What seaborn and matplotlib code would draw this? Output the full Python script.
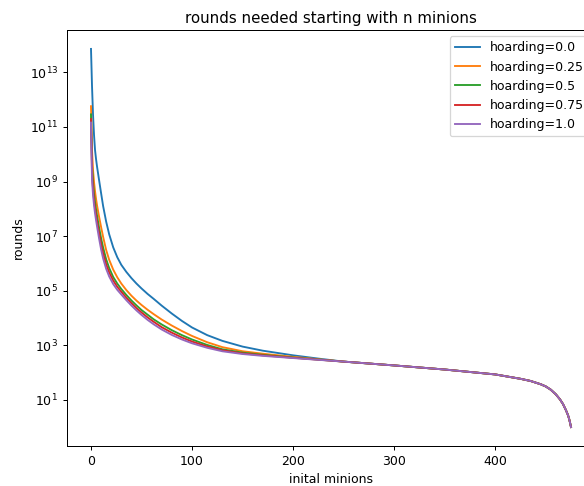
import matplotlib
matplotlib.use("Agg")
import matplotlib.pyplot as plt
import seaborn as sns
import numpy as np
import pandas as pd

# initial minions (sampled positions along the x axis)
minions_head = [0, 1, 2, 3, 4, 5, 6, 8, 10, 12, 15, 18, 22, 26, 30, 35, 40, 45, 50, 56,
                62, 70, 80, 90, 100, 115, 130, 150, 170, 200, 225]
minions_tail = [250, 300, 350, 400, 425, 435, 445, 450, 455, 460, 464, 467, 470, 472,
                473, 474, 475]

# rounds, read as log10 values off the log axis
log_tail = [2.40, 2.26, 2.11, 1.93, 1.77, 1.69, 1.57, 1.49, 1.37, 1.20, 1.02, 0.85,
            0.62, 0.44, 0.32, 0.17, 0.0]

log_h00 = [13.86, 12.5, 11.45, 10.7, 10.15, 9.82, 9.54, 9.05, 8.57, 8.1, 7.53, 7.065,
           6.585, 6.225, 5.945, 5.685, 5.46, 5.26, 5.08, 4.88, 4.70, 4.45, 4.16, 3.89,
           3.65, 3.37, 3.16, 2.95, 2.80, 2.63, 2.51]
log_h025 = [11.76, 10.15, 9.42, 8.98, 8.64, 8.36, 8.12, 7.71, 7.33, 6.97, 6.49, 6.13,
            5.77, 5.49, 5.26, 5.02, 4.815, 4.635, 4.475, 4.30, 4.14, 3.94, 3.72, 3.52,
            3.34, 3.11, 2.93, 2.78, 2.69, 2.575, 2.485]
log_h05 = [11.46, 9.6, 8.97, 8.56, 8.24, 7.97, 7.74, 7.31, 6.92, 6.58, 6.15, 5.83,
           5.5, 5.26, 5.06, 4.84, 4.64, 4.46, 4.29, 4.12, 3.95, 3.76, 3.55, 3.37,
           3.21, 3.01, 2.85, 2.73, 2.65, 2.55, 2.475]
log_h075 = [11.29, 9.32, 8.73, 8.33, 8.02, 7.77, 7.53, 7.10, 6.71, 6.37, 5.97, 5.67,
            5.37, 5.14, 4.96, 4.74, 4.545, 4.36, 4.20, 4.02, 3.86, 3.66, 3.46, 3.285,
            3.135, 2.955, 2.815, 2.70, 2.63, 2.54, 2.47]
log_h10 = [11.16, 9.06, 8.51, 8.13, 7.83, 7.58, 7.35, 6.91, 6.51, 6.18, 5.80, 5.52,
           5.24, 5.03, 4.86, 4.65, 4.455, 4.275, 4.11, 3.93, 3.768, 3.576, 3.376, 3.211,
           3.071, 2.906, 2.778, 2.678, 2.61, 2.53, 2.465]

labels = ["hoarding=0.0", "hoarding=0.25", "hoarding=0.5", "hoarding=0.75", "hoarding=1.0"]
series = [log_h00, log_h025, log_h05, log_h075, log_h10]
colors = ["#1f77b4", "#ff7f0e", "#2ca02c", "#d62728", "#9467bd"]

DPI = 90
fig = plt.figure(figsize=(584 / DPI, 486 / DPI), dpi=DPI)
ax = fig.add_axes([67 / 584, 40 / 486, 528 / 584, 416 / 486])

x_all = minions_head + minions_tail
for lab, vals, col in zip(labels, series, colors):
    df = pd.DataFrame({"x": x_all, "y": 10 ** np.array(vals + log_tail)})
    sns.lineplot(data=df, x="x", y="y", ax=ax, color=col, label=lab, linewidth=1.5)

ax.set_yscale("log")
ax.set_title("rounds needed starting with n minions", fontsize=12)
ax.set_xlabel("inital minions", fontsize=10)
ax.set_ylabel("rounds", fontsize=10)
ax.legend(loc="upper right", fontsize=10)

fig.savefig("out.png", dpi=DPI)
